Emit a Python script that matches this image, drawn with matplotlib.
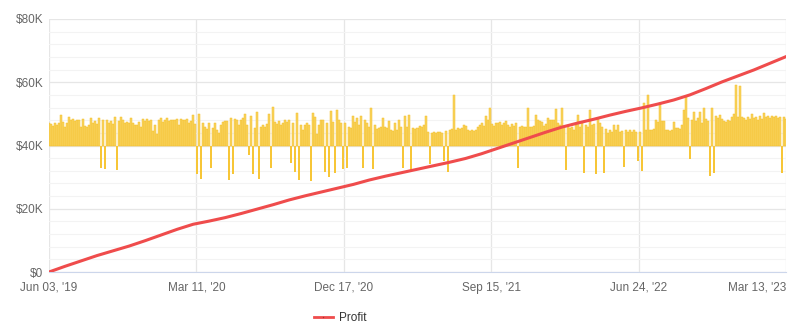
import matplotlib.pyplot as plt
import matplotlib.transforms as mtransforms
import numpy as np

# daily result per trading day, in $K, measured from the $40K bar baseline
daily = [
    7.0, 6.8, 6.2, 7.0, 6.5, 7.2, 9.6, 7.5, 6.0, 7.2, 9.0, 8.0, 8.3, 7.6, 8.0, 8.2,
    5.8, 8.4, 6.2, 5.8, 6.5, 8.6, 7.0, 7.6, 6.8, 8.6, -7.0, 8.0, -7.3, 8.0, 7.2, 7.6,
    6.8, 9.0, -7.9, 7.6, 9.0, 8.2, 7.0, 7.4, 7.0, 8.8, 7.2, 6.4, 6.6, 7.4, 6.0, 8.4,
    7.6, 8.4, 7.8, 8.2, 4.6, 6.6, 3.6, 8.0, 8.8, 7.4, 8.0, 8.6, 7.6, 8.0,
    8.2, 8.0, 8.5, 6.4, 8.4, 8.2, 8.0, 8.4, 7.0, 7.6, 9.7, 6.8, -8.9, 10.0, -10.7, 7.0,
    6.0, 5.2, 7.0, -7.0, 5.6, 7.0, 5.0, 4.0, 6.6, 7.4, 7.6, 7.8, -11.0, 8.6, -8.9, 8.4,
    8.0, 6.4, 8.2, 8.6, 10.0, 6.6, -3.0, 9.4, -9.1, 5.4, 10.6, -10.7, 6.0, 6.6, 5.8, 6.8,
    10.0, -7.0, 12.2, 7.4, 6.8, 7.6, 6.6, 7.2, 8.0, 7.4, 8.2, -5.5, 7.0,
    -8.3, 10.2, -11.0, 6.6, 5.0, 6.6, 7.0, 6.4, -11.2, 10.3, 9.0, 3.6, 6.6, 8.2, 8.0, -8.3,
    7.2, -10.0, 10.8, 7.4, -8.6, 11.3, 8.0, 7.0, -7.5, 7.0, -7.0, 5.8, 5.4, 9.2, 7.4, 8.6,
    6.4, 9.2, -7.0, 8.0, 7.0, 6.0, 11.8, -7.5, 6.6, 5.2, 5.6, 6.0, 8.7, 6.0, 5.4, 7.6,
    4.8, 4.6, 7.0, 5.0, 8.2, 6.0, -7.0, 9.2, 6.0, 9.7, -8.3, 5.6, 5.2, 5.6,
    6.2, 5.8, 6.4, 9.2, 4.2, -6.0, 4.0, 4.4, 4.0, 4.2, 4.4, 4.0, -4.9, 4.6, -8.3, 5.0,
    5.2, 16.0, 5.0, 5.4, 5.2, 5.6, 6.6, 6.2, 4.8, 4.6, 5.0, 4.6, 4.8, 5.8, 6.6, 7.0,
    6.2, 9.2, 8.0, 11.8, 6.8, 6.2, 7.2, 7.0, 7.4, 6.6, 7.0, 7.6, 6.4, 6.0, 6.8, 6.2,
    7.0, -7.0, 6.0, 6.2, 5.8, 6.0, 11.8, 6.0, 5.8, 6.2, 9.7, 8.0, 7.8,
    7.4, 6.2, 6.8, 8.8, 8.0, 8.0, 8.2, 11.4, 7.0, 6.4, 11.7, 6.0, -7.7, 6.2, 5.6, 6.0,
    5.0, 6.4, 9.6, 5.8, 7.0, -8.7, 6.6, 6.0, 11.2, 6.4, 6.8, -9.0, 8.5, 7.0, 6.0, -8.7,
    5.2, 3.8, 5.0, 4.4, 6.4, 4.8, 6.4, 4.4, 4.6, -6.7, 4.8, 4.4, 4.8, 4.2, 5.0, 4.4,
    -5.0, 4.4, -8.2, 13.3, 4.8, 15.9, 5.0, 4.8, 5.2, 8.0, 7.4, 13.3, 7.6, 7.8,
    4.8, 5.0, 4.6, 5.0, 7.5, 5.4, 5.6, 5.2, 6.4, 11.2, 15.3, 8.6, -4.3, 8.2, 10.6, 7.6,
    8.6, 10.6, 7.0, 11.7, 8.4, 7.6, -9.6, 11.7, -8.7, 9.4, 8.6, 9.8, 8.4, 7.8, 7.4, 8.0,
    7.6, 9.0, 10.0, 19.2, 9.0, 18.8, 9.0, 8.6, 8.2, 9.0, 8.4, 10.0, 8.6, 9.0, 8.0, 9.2,
    8.4, 10.2, 9.0, 9.2, 8.6, 9.4, 9.0, 9.2, 8.8, 9.0, -8.7, 9.0, 8.4,
]

# cumulative profit in $K, one reading every 8 trading days
profit = [
    0.0, 1.8, 3.5, 5.2, 6.7, 8.2, 9.9, 11.7, 13.5, 15.1, 16.1, 17.2, 18.5, 19.9, 21.3, 22.8,
    24.1, 25.3, 26.5, 27.7, 29.1, 30.3, 31.4, 32.5, 33.6, 34.7, 35.9, 37.4, 39.1, 40.8, 42.5, 44.2,
    45.8, 47.1, 48.3, 49.6, 50.8, 51.9, 53.1, 54.4, 56.0, 58.0, 60.1, 62.0, 63.9, 66.0, 68.1,
]
profit_step = 8

date_labels = ["Jun 03, '19", "Mar 11, '20", "Dec 17, '20", "Sep 15, '21", "Jun 24, '22", "Mar 13, '23"]
y_ticks = [0, 20, 40, 60, 80]
baseline = 40

plt.rcParams['font.family'] = ['Liberation Sans', 'DejaVu Sans']

daily = np.array(daily)
n = len(daily)
x = np.arange(n)
xp = np.arange(len(profit)) * profit_step

fig = plt.figure(figsize=(7.92, 3.32), dpi=100)
ax = fig.add_axes([49 / 792, 60 / 332, 737 / 792, 253 / 332])

# gains as a filled strip, losses as narrow spikes below the baseline
up = daily >= 0
ax.bar(x[up], daily[up], bottom=baseline, width=1.0, color='#f9d35e',
       edgecolor='#f4c02a', linewidth=0.35, zorder=2)
ax.bar(x[~up], daily[~up], bottom=baseline, width=1.0, color='#f7c637',
       linewidth=0, zorder=2)
ax.plot(xp, profit, color='#ef4c4c', lw=2.2, zorder=3)

ax.set_xlim(0, n - 1)
ax.set_ylim(0, 80)
ax.set_yticks(y_ticks)
ax.set_yticklabels(['$0' if v == 0 else f'${v}K' for v in y_ticks])
ax.set_yticks(np.arange(0, 81, 4), minor=True)
ax.set_xticks(np.linspace(0, n - 1, len(date_labels)))
ax.set_xticklabels(date_labels)

# keep the last date label inside the figure
last = ax.get_xticklabels()[-1]
last.set_ha('right')
last.set_transform(last.get_transform() + mtransforms.ScaledTranslation(4 / 72, 0, fig.dpi_scale_trans))

ax.grid(True, which='major', color='#e6e6e6', lw=0.9, zorder=0)
ax.grid(True, which='minor', axis='y', color='#f3f3f3', lw=0.8, zorder=0)
ax.set_axisbelow(True)
for side in ['top', 'right', 'left']:
    ax.spines[side].set_visible(False)
ax.spines['bottom'].set_color('#ccd6eb')
ax.tick_params(which='both', length=0, colors='#666666', labelsize=8.5)
ax.tick_params(axis='y', pad=4)
ax.tick_params(axis='x', pad=7)

handle = plt.Line2D([], [], color='#ef4c4c', lw=2.0, marker='.', markersize=2,
                    markerfacecolor='#a83030', markeredgewidth=0)
fig.legend([handle], ['Profit'], loc='center', bbox_to_anchor=(340 / 792, 1 - 318 / 332),
           frameon=False, fontsize=8.5, handlelength=1.6, handletextpad=0.5,
           labelcolor='#333333')

fig.savefig('out.png', dpi=100)
